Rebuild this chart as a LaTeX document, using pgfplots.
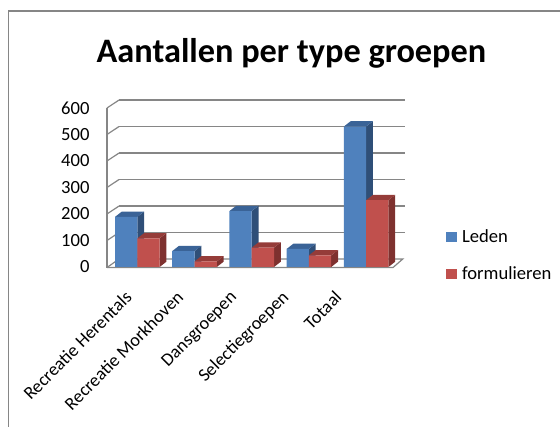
\documentclass[border=0pt]{standalone}
\usepackage{pgfplots}
\pgfplotsset{compat=1.18}
\usepackage{fontspec}
\setmainfont{Carlito}
\definecolor{blueF}{HTML}{4F81BD}
\definecolor{blueS}{HTML}{2F4F78}
\definecolor{blueT}{HTML}{3A6397}
\definecolor{redF}{HTML}{C0504D}
\definecolor{redS}{HTML}{7E312F}
\definecolor{redT}{HTML}{953C39}
\definecolor{gridc}{HTML}{868686}
\pgfplotsset{sqlegend/.style={legend image code/.code={\path[##1] (0pt,-5.2pt) rectangle (10.5pt,5.2pt);}}}
% sides of a 3D bar: x0, x1, value, side colour, top colour
\newcommand{\barsides}[5]{%
  \pgfmathsetmacro{\xa}{#1+0.119}\pgfmathsetmacro{\xb}{#2+0.119}%
  \pgfmathsetmacro{\vt}{#3+20}%
  \addplot[forget plot,fill=#4,draw=none] coordinates {(#2,0) (\xb,20) (\xb,\vt) (#2,#3)} --cycle;
  \addplot[forget plot,fill=#5,draw=none] coordinates {(#1,#3) (\xa,\vt) (\xb,\vt) (#2,#3)} --cycle;
}
\begin{document}
\begin{tikzpicture}[x=1pt,y=1pt]
\path[use as bounding box] (0,0) rectangle (560,427);
\draw[gridc,line width=1.5pt] (8.5,0) -- (8.5,416) -- (560,416);
\begin{axis}[
  at={(107pt,160pt)},anchor=south west,
  scale only axis,width=286pt,height=159pt,
  xmin=-0.53,xmax=4.47,ymin=0,ymax=600,
  clip=false,
  axis line style={draw=none},
  tick style={draw=none},
  ytick={0,100,200,300,400,500,600},
  xtick={-0.52,0.38,1.32,2.22,3.15},
  xticklabels={Recreatie Herentals\hspace{3pt},Recreatie Morkhoven,Dansgroepen,Selectiegroepen,Totaal\hspace{-7pt}},
  xticklabel style={rotate=45,anchor=north east,font=\fontsize{18.2}{19}\selectfont,yshift=-26.5pt,xshift=-3.5pt,inner sep=1pt},
  yticklabel style={font=\fontsize{18.6}{19}\selectfont,xshift=-14pt,/pgf/number format/assume math mode=true},
  title={\fontsize{34.3}{36}\selectfont\bfseries Aantallen per type groepen},
  title style={at={(axis description cs:0.645,1.25)},anchor=base,yshift=0pt},
  legend style={at={(axis description cs:1.185,0.246)},anchor=north west,draw=none,fill=none,
    font=\fontsize{18.6}{19}\selectfont,row sep=18pt,inner sep=0pt,
    cells={anchor=west},
    /tikz/every odd column/.append style={column sep=3.5pt}},
]
% walls and floor
\addplot[forget plot,gridc,line width=1.2pt] coordinates {(-0.32,630) (4.68,630)};
\addplot[forget plot,gridc,line width=1.2pt] coordinates {(-0.32,530) (4.68,530)};
\addplot[forget plot,gridc,line width=1.2pt] coordinates {(-0.32,430) (4.68,430)};
\addplot[forget plot,gridc,line width=1.2pt] coordinates {(-0.32,330) (4.68,330)};
\addplot[forget plot,gridc,line width=1.2pt] coordinates {(-0.32,230) (4.68,230)};
\addplot[forget plot,gridc,line width=1.2pt] coordinates {(-0.32,130) (4.68,130)};
\addplot[forget plot,gridc,line width=1.2pt] coordinates {(-0.32,30) (4.64,30) (4.47,-2) (-0.53,-2)};
\addplot[forget plot,gridc,line width=1.2pt] coordinates {(-0.53,-2) (-0.53,600)};
\addplot[forget plot,gridc,line width=1.2pt] coordinates {(-0.53,600) (-0.32,630)};
\addplot[forget plot,gridc,line width=1.2pt] coordinates {(-0.53,500) (-0.32,530)};
\addplot[forget plot,gridc,line width=1.2pt] coordinates {(-0.53,400) (-0.32,430)};
\addplot[forget plot,gridc,line width=1.2pt] coordinates {(-0.53,300) (-0.32,330)};
\addplot[forget plot,gridc,line width=1.2pt] coordinates {(-0.53,200) (-0.32,230)};
\addplot[forget plot,gridc,line width=1.2pt] coordinates {(-0.53,100) (-0.32,130)};
\addplot[forget plot,gridc,line width=1.2pt] coordinates {(-0.53,-2) (-0.32,30)};
% Leden
\barsides{-0.39}{0}{189}{blueS}{blueT}
\barsides{0.61}{1}{60}{blueS}{blueT}
\barsides{1.61}{2}{211}{blueS}{blueT}
\barsides{2.61}{3}{68}{blueS}{blueT}
\barsides{3.61}{4}{530}{blueS}{blueT}
\addplot[ybar,bar width=0.39,bar shift=-0.195,fill=blueF,draw=none,sqlegend]
  coordinates {(0,189) (1,60) (2,211) (3,68) (4,530)};
\addlegendentry{Leden}
% formulieren
\barsides{0}{0.39}{108}{redS}{redT}
\barsides{1}{1.39}{21}{redS}{redT}
\barsides{2}{2.39}{73}{redS}{redT}
\barsides{3}{3.39}{44}{redS}{redT}
\barsides{4}{4.39}{252}{redS}{redT}
\addplot[ybar,bar width=0.39,bar shift=0.195,fill=redF,draw=none,sqlegend]
  coordinates {(0,108) (1,21) (2,73) (3,44) (4,252)};
\addlegendentry{formulieren}
\end{axis}
\end{tikzpicture}
\end{document}
